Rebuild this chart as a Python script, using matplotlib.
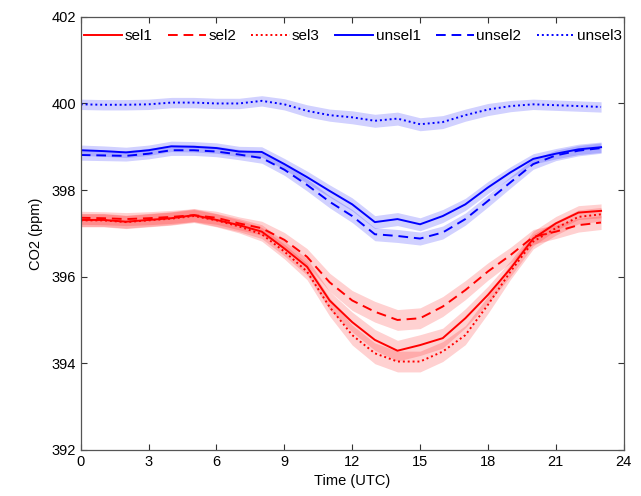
import matplotlib
matplotlib.use("Agg")
import matplotlib.pyplot as plt
import numpy as np

plt.rcParams['font.family'] = ['Liberation Sans', 'DejaVu Sans']

hours = list(range(24))

sel1 = [397.31, 397.31, 397.27, 397.31, 397.35, 397.42, 397.31, 397.19, 397.04, 396.65, 396.23, 395.45,
        394.95, 394.54, 394.29, 394.42, 394.58, 395.04, 395.58, 396.19, 396.88, 397.23, 397.48, 397.52]
sel2 = [397.36, 397.35, 397.33, 397.35, 397.38, 397.42, 397.36, 397.23, 397.12, 396.85, 396.46, 395.87,
        395.45, 395.19, 395.00, 395.04, 395.31, 395.69, 396.12, 396.50, 396.92, 397.04, 397.19, 397.25]
sel3 = [397.30, 397.30, 397.26, 397.30, 397.34, 397.40, 397.30, 397.16, 396.98, 396.58, 396.12, 395.30,
        394.65, 394.23, 394.04, 394.04, 394.27, 394.65, 395.35, 396.12, 396.81, 397.12, 397.38, 397.44]
unsel1 = [398.92, 398.90, 398.87, 398.92, 399.01, 399.00, 398.97, 398.89, 398.88, 398.60, 398.30, 397.98,
          397.67, 397.26, 397.33, 397.21, 397.40, 397.67, 398.06, 398.41, 398.72, 398.84, 398.94, 398.99]
unsel2 = [398.81, 398.80, 398.79, 398.84, 398.92, 398.92, 398.89, 398.82, 398.74, 398.47, 398.12, 397.73,
          397.40, 396.98, 396.94, 396.88, 397.02, 397.33, 397.75, 398.18, 398.60, 398.80, 398.91, 398.97]
unsel3 = [399.98, 399.97, 399.97, 399.98, 400.02, 400.02, 400.00, 400.00, 400.06, 399.98, 399.83, 399.73,
          399.68, 399.60, 399.65, 399.52, 399.57, 399.73, 399.86, 399.94, 399.98, 399.96, 399.94, 399.92]

sel_err = [0.15, 0.15, 0.15, 0.15, 0.15, 0.15, 0.15, 0.15, 0.16, 0.17, 0.19, 0.21,
           0.23, 0.24, 0.24, 0.24, 0.23, 0.22, 0.20, 0.18, 0.17, 0.16, 0.16, 0.16]
unsel_err = [0.12, 0.12, 0.12, 0.12, 0.12, 0.12, 0.12, 0.12, 0.12, 0.13, 0.14, 0.14,
             0.15, 0.15, 0.15, 0.15, 0.15, 0.14, 0.14, 0.13, 0.12, 0.12, 0.12, 0.12]

labels = ['sel1', 'sel2', 'sel3', 'unsel1', 'unsel2', 'unsel3']
series = [sel1, sel2, sel3, unsel1, unsel2, unsel3]
errs = [sel_err, sel_err, sel_err, unsel_err, unsel_err, unsel_err]
colors = ['#ff0000', '#ff0000', '#ff0000', '#0000ff', '#0000ff', '#0000ff']
styles = ['-', (0, (5, 3)), (0, (1, 1.5)), '-', (0, (5, 3)), (0, (1, 1.5))]

fig = plt.figure(figsize=(6.41, 4.96), dpi=100)
ax = fig.add_axes([0.126, 0.093, 0.847, 0.873])

x = np.array(hours)
for y, e, c in zip(series, errs, colors):
    y = np.array(y); e = np.array(e)
    ax.fill_between(x, y - e, y + e, color=c, alpha=0.18, linewidth=0)

handles = []
for y, lab, c, ls in zip(series, labels, colors, styles):
    h, = ax.plot(x, y, color=c, linestyle=ls, linewidth=1.4, label=lab)
    handles.append(h)

ax.set_xlim(0, 24)
ax.set_ylim(392, 402)
ax.set_xticks(range(0, 25, 3))
ax.set_yticks(range(392, 403, 2))
ax.tick_params(direction='in', top=True, right=True, labelsize=10.5, length=4, width=0.8, colors='#333333', labelcolor='black')
for s in ax.spines.values():
    s.set_color('#555555')
    s.set_linewidth(0.9)

ax.set_xlabel('Time (UTC)', fontsize=10.5, labelpad=4)
ax.set_ylabel('CO2 (ppm)', fontsize=10.5, labelpad=6)

ax.legend(handles=handles, loc='upper left', ncol=6, frameon=False, fontsize=11,
          handlelength=2.5, columnspacing=1.0, handletextpad=0.15,
          bbox_to_anchor=(-0.005, 0.985), borderaxespad=0.3, borderpad=0.1)

fig.savefig('out.png', dpi=100)
